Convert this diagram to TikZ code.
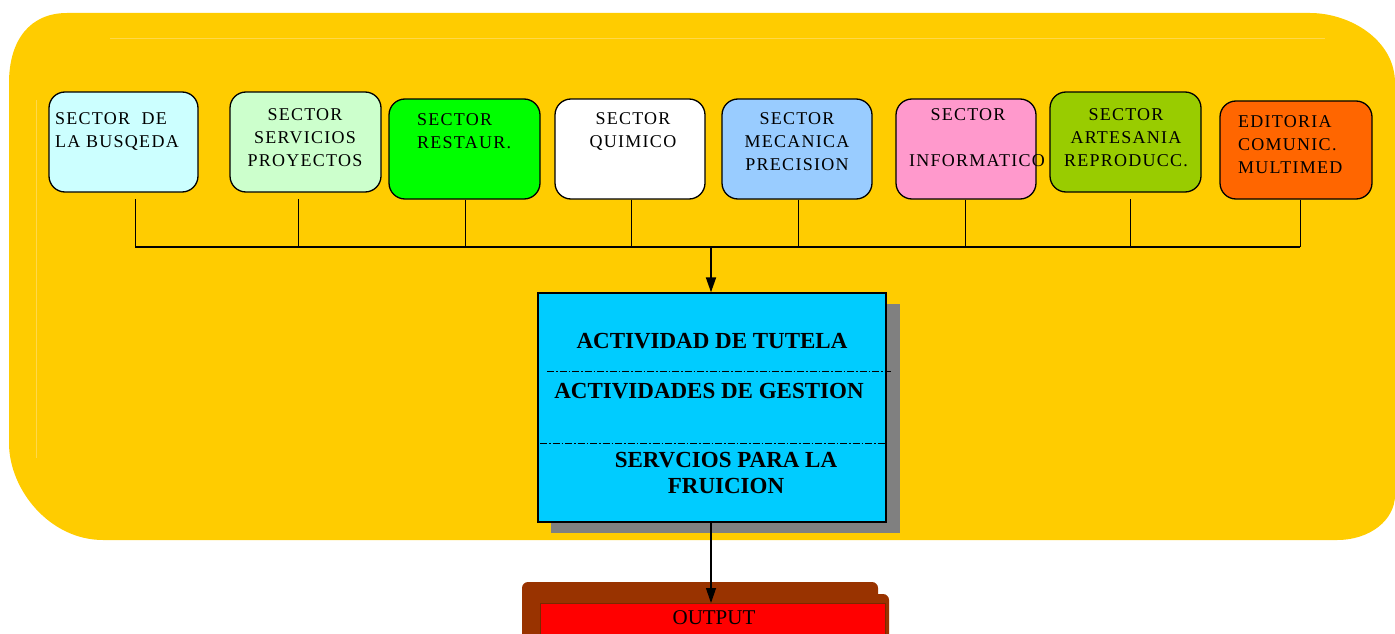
\documentclass[tikz,border=0pt]{standalone}
\usepackage{fontspec}
\setmainfont{Liberation Serif}
\newfontfamily\spaced[LetterSpace=7]{Liberation Serif}
\usetikzlibrary{arrows.meta}
\definecolor{bgyellow}{HTML}{FFCC00}
\definecolor{bevel}{HTML}{FFD84A}
\definecolor{cbusq}{HTML}{CCFFFF}
\definecolor{cserv}{HTML}{CCFFCC}
\definecolor{crest}{HTML}{00FF00}
\definecolor{cmeca}{HTML}{99CCFF}
\definecolor{cinfo}{HTML}{FF99CC}
\definecolor{carte}{HTML}{99CC00}
\definecolor{cedit}{HTML}{FF6600}
\definecolor{cblue}{HTML}{00CCFF}
\definecolor{cshadow}{HTML}{808080}
\definecolor{cbrown}{HTML}{993300}
\definecolor{cred}{HTML}{FF0000}
\begin{document}
\begin{tikzpicture}[x=1pt,y=-1pt,
  sectorbox/.style={draw=black,line width=1.3pt,rounded corners=16pt,inner sep=0pt},
  sectortext/.style={font=\spaced\fontsize{18}{23}\selectfont,inner sep=0pt},
  boldtext/.style={font=\fontsize{23}{26}\selectfont\bfseries,inner sep=0pt,align=center},
  bus/.style={line width=1pt},
  dashdot/.style={line width=0.9pt,dash pattern=on 7pt off 2pt on 1.5pt off 2pt}]
\useasboundingbox (0,0) rectangle (1395,634);
% background
\fill[bgyellow] (9,83) .. controls (9,40) and (30,13) .. (67,13) -- (1310,13)
  .. controls (1350,13) and (1395,40) .. (1395,83) -- (1395,495)
  .. controls (1395,520) and (1370,540) .. (1337,540) -- (103,540)
  .. controls (50,540) and (9,490) .. (9,443) -- cycle;
\draw[bevel,line width=0.6pt] (110,38) -- (1325,38);
\draw[bevel,line width=0.6pt] (36,100) -- (36,458);
% sector boxes
\node[sectorbox,fill=cbusq,minimum width=149pt,minimum height=100pt] (b1) at (123.5,142) {};
\node[sectorbox,fill=cserv,minimum width=151pt,minimum height=100pt] (b2) at (305.5,142) {};
\node[sectorbox,fill=crest,minimum width=151pt,minimum height=100pt] (b3) at (464.5,149) {};
\node[sectorbox,fill=white,minimum width=150pt,minimum height=100pt] (b4) at (630,149) {};
\node[sectorbox,fill=cmeca,minimum width=150pt,minimum height=100pt] (b5) at (797,149) {};
\node[sectorbox,fill=cinfo,minimum width=140pt,minimum height=100pt] (b6) at (966,149) {};
\node[sectorbox,fill=carte,minimum width=151pt,minimum height=100pt] (b7) at (1125.5,142) {};
\node[sectorbox,fill=cedit,minimum width=152pt,minimum height=98pt] (b8) at (1296,150) {};
% sector texts
\node[sectortext,anchor=west,align=left] (t1) at (55,131) {SECTOR\ \ DE\\LA BUSQEDA};
\node[sectortext,align=center] (t2) at (305,138) {SECTOR\\SERVICIOS\\PROYECTOS};
\node[sectortext,anchor=west,align=left] (t3) at (417,131) {SECTOR\\RESTAUR.};
\node[sectortext,align=center] (t4) at (633,131) {SECTOR\\QUIMICO};
\node[sectortext,align=center] (t5) at (797,142) {SECTOR\\MECANICA\\PRECISION};
\node[sectortext,align=center] (t6a) at (968,115) {SECTOR};
\node[sectortext,align=center] (t6b) at (977,161) {INFORMATICO};
\node[sectortext,align=center] (t7) at (1126,138) {SECTOR\\ARTESANIA\\REPRODUCC.};
\node[sectortext,anchor=west,align=left] (t8) at (1238,145) {EDITORIA\\COMUNIC.\\MULTIMED};
% bus
\coordinate (j1) at (135,247);
\coordinate (j2) at (298,247);
\coordinate (j3) at (465,247);
\coordinate (j4) at (631,247);
\coordinate (j5) at (798,247);
\coordinate (j6) at (965,247);
\coordinate (j7) at (1130,247);
\coordinate (j8) at (1300,247);
\coordinate (jm) at (711,247);
\draw[bus] (j1 |- 0,199) -- (j1);
\draw[bus] (j2 |- 0,199) -- (j2);
\draw[bus] (b3.south -| j3) -- (j3);
\draw[bus] (b4.south -| j4) -- (j4);
\draw[bus] (b5.south -| j5) -- (j5);
\draw[bus] (b6.south -| j6) -- (j6);
\draw[bus] (j7 |- 0,199) -- (j7);
\draw[bus] (b8.south -| j8) -- (j8);
\draw[line width=1.2pt] (j1) -- (j8);
% central box
\fill[cshadow] (551,304) rectangle (900,533);
\node[draw=black,line width=1.3pt,fill=cblue,minimum width=348pt,minimum height=229pt,inner sep=0pt] (core) at (712,407.5) {};
\draw[line width=1.8pt,-{Triangle[length=15pt,width=10pt]}] (jm) -- (core.north -| jm);
\draw[dashdot] (547,371) -- (891,371);
\draw[dashdot] (540,443) -- (886,443);
\node[boldtext] (c1) at (712,341) {ACTIVIDAD DE TUTELA};
\node[boldtext] (c2) at (709,391) {ACTIVIDADES DE GESTION};
\node[boldtext] (c3) at (726,473) {SERVCIOS PARA LA\\FRUICION};
% output
\fill[cbrown,rounded corners=6pt] (522,582) rectangle (878,640);
\fill[cbrown,rounded corners=6pt] (533,594) rectangle (889,640);
\node[draw=cbrown!80!black,line width=0.6pt,fill=cred,minimum width=345pt,minimum height=34pt,inner sep=0pt,anchor=north west] (out) at (540,603) {};
\node[inner sep=0pt,font=\fontsize{21}{22}\selectfont] (outt) at (714,618) {OUTPUT};
\draw[line width=1.2pt,-{Triangle[length=15pt,width=10pt]}] (core.south -| jm) -- (out.north -| jm);
\end{tikzpicture}
\end{document}
